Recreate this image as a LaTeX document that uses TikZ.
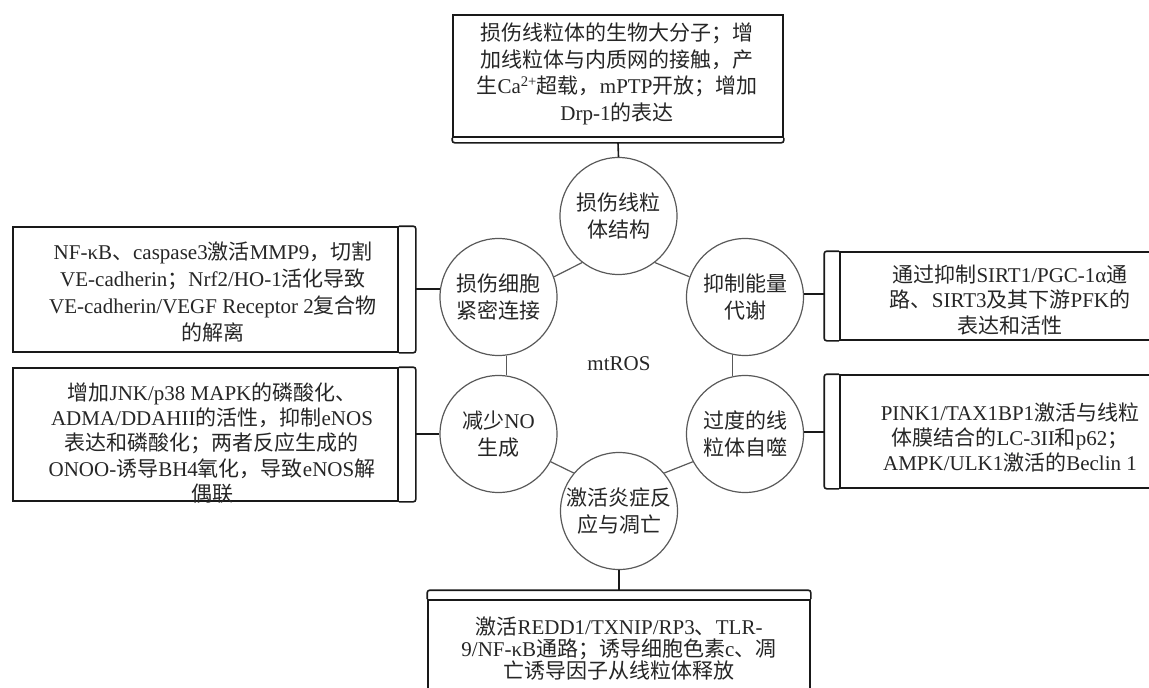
\documentclass[tikz,border=0pt]{standalone}
\usepackage{fontspec}
\setmainfont{Liberation Serif}
\newfontfamily\cjk{Noto Sans CJK SC}
\XeTeXinterchartokenstate=1
\chardef\cjkcls=100
\newcount\cjkcnt
\cjkcnt="4E00
\loop\XeTeXcharclass\cjkcnt=\cjkcls\advance\cjkcnt by 1\relax\ifnum\cjkcnt<"A000 \repeat
\cjkcnt="3000
\loop\XeTeXcharclass\cjkcnt=\cjkcls\advance\cjkcnt by 1\relax\ifnum\cjkcnt<"3040 \repeat
\cjkcnt="FF00
\loop\XeTeXcharclass\cjkcnt=\cjkcls\advance\cjkcnt by 1\relax\ifnum\cjkcnt<"FFF0 \repeat
\XeTeXinterchartoks 0 100 = {\cjk}
\XeTeXinterchartoks 4095 100 = {\cjk}
\XeTeXinterchartoks 100 0 = {\rmfamily}
\XeTeXinterchartoks 100 4095 = {\rmfamily}
\newcommand\fs[1]{\fontsize{21}{#1}\selectfont}
\tikzset{
 boxs/.style={draw=black!90, line width=1.6pt, fill=white, inner sep=0pt},
 brk/.style={draw=black!90, line width=1.6pt, rounded corners=2.5pt},
 ring/.style={circle, draw=black!65, line width=1.2pt, fill=white, minimum size=117pt, inner sep=0pt, align=center, text=black!85, font={\fs{27}}},
 rline/.style={draw=black!65, line width=1.2pt},
 conn/.style={draw=black!90, line width=1.6pt},
 txt/.style={align=center, inner sep=0pt, text=black!85},
}
\begin{document}
\begin{tikzpicture}[x=1pt,y=-1pt]
\useasboundingbox (0,0) rectangle (1149,688);
\clip (0,0) rectangle (1149,688);
% boxes
\node[boxs, minimum width=330pt, minimum height=122pt] (tb) at (618,76) {};
\node[boxs, minimum width=385pt, minimum height=125pt] (bx1) at (205.5,289.5) {};
\node[boxs, minimum width=385pt, minimum height=133pt] (bx2) at (205.5,434.5) {};
\node[boxs, minimum width=340pt, minimum height=88pt] (bx3) at (1010,296) {};
\node[boxs, minimum width=340pt, minimum height=113pt] (bx4) at (1010,431.5) {};
\node[boxs, minimum width=382pt, minimum height=100pt] (bb) at (619,650) {};
% box texts
\node[txt, font={\fs{26.5}}] (tbt) at (617,74) {损伤线粒体的生物大分子；增\\加线粒体与内质网的接触，产\\生Ca\textsuperscript{2+}超载，mPTP开放；增加\\Drp-1的表达};
\node[txt, font={\fs{27}}] (bx1t) at (213,292) {NF-κB、caspase3激活MMP9，切割\\VE-cadherin；Nrf2/HO-1活化导致\\VE-cadherin/VEGF Receptor 2复合物\\的解离};
\node[txt, font={\fs{25.3}}] (bx2t) at (212,443) {增加JNK/p38 MAPK的磷酸化、\\ADMA/DDAHII的活性，抑制eNOS\\表达和磷酸化；两者反应生成的\\ONOO-诱导BH4氧化，导致eNOS解\\偶联};
\node[txt, font={\fs{25.5}}] (bx3t) at (1010,300) {通过抑制SIRT1/PGC-1α通\\路、SIRT3及其下游PFK的\\表达和活性};
\node[txt, font={\fs{25}}] (bx4t) at (1010,437) {PINK1/TAX1BP1激活与线粒\\体膜结合的LC-3II和p62；\\AMPK/ULK1激活的Beclin 1};
\node[txt, font={\fs{22}}] (bbt) at (619,649) {激活REDD1/TXNIP/RP3、TLR-\\9/NF-κB通路；诱导细胞色素c、凋\\亡诱导因子从线粒体释放};
% circles
\node[ring] (top) at (618.5,216) {损伤线粒\\体结构};
\node[ring] (lt) at (498.5,297) {损伤细胞\\紧密连接};
\node[ring] (lb) at (498.5,434) {减少NO\\生成};
\node[ring] (bot) at (619,511) {激活炎症反\\应与凋亡};
\node[ring] (rt) at (745,297) {抑制能量\\代谢};
\node[ring] (rb) at (745,434) {过度的线\\粒体自噬};
\node[txt, font={\fs{26}}] (ros) at (619,364) {mtROS};
% ring links
\draw[rline] (lt.20) -- (top.232);
\draw[rline] (top.308) -- (rt.160);
\draw[rline] (lt.278) -- (lb.82);
\draw[rline] (rt.258) -- (rb.102);
\draw[rline] (lb.332) -- (bot.140);
\draw[rline] (bot.40) -- (rb.208);
% bracket points
\coordinate (tbk) at ([yshift=-5pt]tb.south);
\coordinate (b1k) at ([xshift=17pt]bx1.east);
\coordinate (b2k) at ([xshift=17pt]bx2.east);
\coordinate (b3k) at ([xshift=-15pt]bx3.west);
\coordinate (b4k) at ([xshift=-15pt]bx4.west);
\coordinate (bbk) at ([yshift=9pt]bb.north);
% brackets
\draw[brk] (tb.south west) |- (tbk) -| (tb.south east);
\draw[brk] (bx1.north east) -| (b1k) |- (bx1.south east);
\draw[brk] (bx2.north east) -| (b2k) |- (bx2.south east);
\draw[brk] (bx3.north west) -| (b3k) |- (bx3.south west);
\draw[brk] (bx4.north west) -| (b4k) |- (bx4.south west);
\draw[brk] (bb.north west) |- (bbk) -| (bb.north east);
% connectors
\draw[conn] (top.north) -- (tbk);
\draw[conn] (lt.172) -- (lt.172 -| b1k);
\draw[conn] (lb.west) -- (lb.west -| b2k);
\draw[conn] (rt.3) -- (rt.3 -| b3k);
\draw[conn] (rb.2) -- (rb.2 -| b4k);
\draw[conn] (bot.south) -- (bbk);
\end{tikzpicture}
\end{document}
